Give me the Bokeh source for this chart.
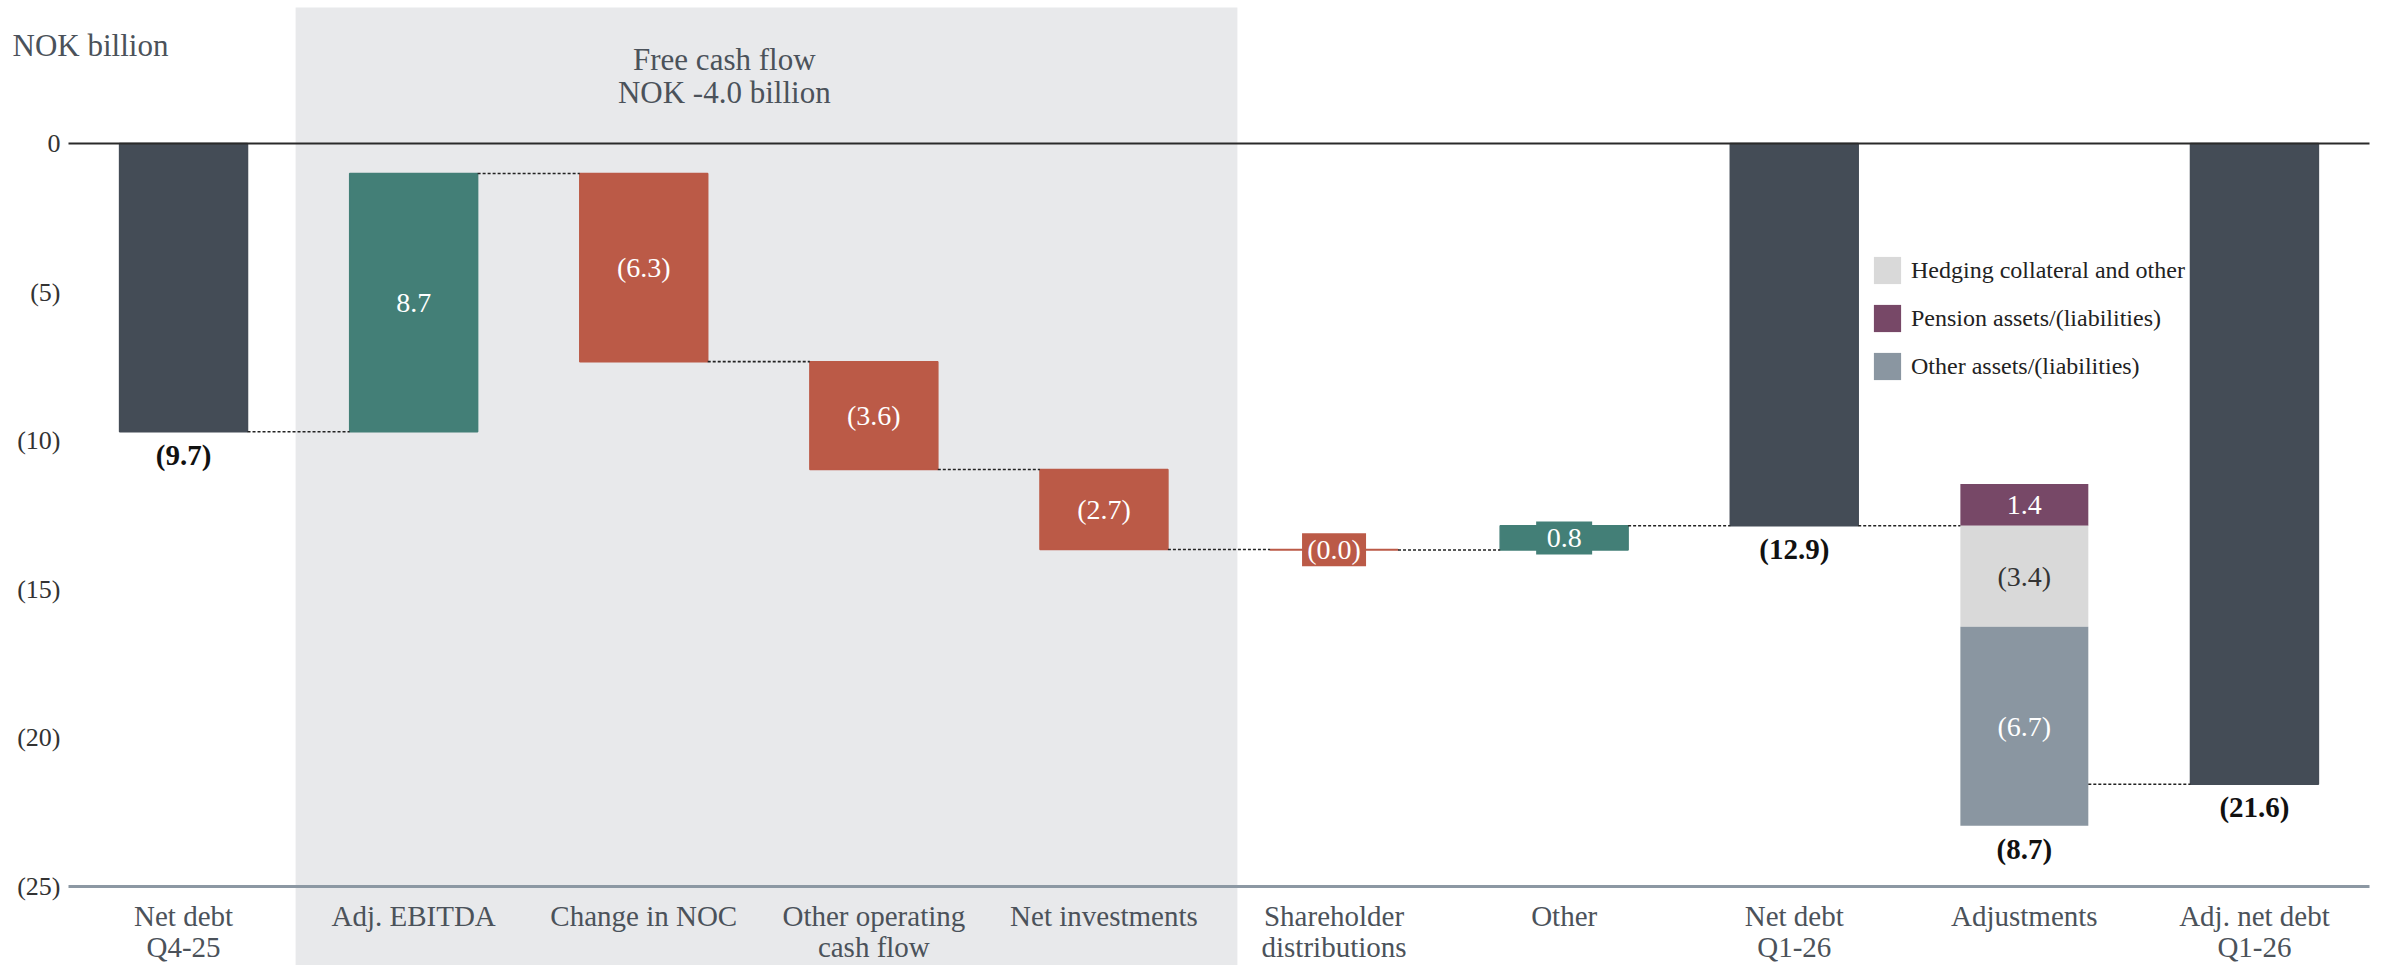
from bokeh.plotting import figure
from bokeh.models import Range1d, ColumnDataSource, FixedTicker, Legend, LegendItem
from bokeh.core.properties import value
from bokeh.embed import file_html
from bokeh.resources import INLINE

# ---------------- data ----------------
categories = ["Net debt\nQ4-25", "Adj. EBITDA", "Change in NOC",
              "Other operating\ncash flow", "Net investments",
              "Shareholder\ndistributions", "Other", "Net debt\nQ1-26",
              "Adjustments", "Adj. net debt\nQ1-26"]

opening_net_debt = -9.70
flow_values = [8.69, -6.33, -3.63, -2.69, -0.02, 0.82]   # Adj. EBITDA ... Other
adjustment_names = ["Pension assets/(liabilities)",
                    "Hedging collateral and other",
                    "Other assets/(liabilities)"]
adjustment_values = [1.40, -3.40, -6.70]
legend_order = ["Hedging collateral and other",
                "Pension assets/(liabilities)",
                "Other assets/(liabilities)"]

y_ticks = [0, -5, -10, -15, -20, -25]
y_tick_labels = ["0", "(5)", "(10)", "(15)", "(20)", "(25)"]

chart_title = ["Free cash flow", "NOK -4.0 billion"]
unit_label = "NOK billion"

# ---------------- styles ----------------
FONT = "Liberation Serif"
DARK = "#444c56"
TEAL = "#437f77"
RED = "#bb5a47"
PURPLE = "#774867"
LIGHT = "#d9d9d9"
STEEL = "#8a96a1"
BAND = "#e8e9eb"
AXIS_TXT = "#4b525a"
BAR_W = 0.556
HALF = BAR_W / 2
adj_colors = {"Pension assets/(liabilities)": PURPLE,
              "Hedging collateral and other": LIGHT,
              "Other assets/(liabilities)": STEEL}
adj_text_colors = {"Pension assets/(liabilities)": "white",
                   "Hedging collateral and other": "#333333",
                   "Other assets/(liabilities)": "white"}

xpos = [i + 0.5 for i in range(len(categories))]   # category centres on the x scale


def fmt(v):
    return f"({abs(v):.1f})" if v < 0 else f"{v:.1f}"


# ---------------- waterfall geometry from data ----------------
bars = dict(x=[], top=[], bottom=[], color=[])
inner = dict(x=[], y=[], text=[], color=[])
boxed = dict(x=[], y=[], text=[], color=[], w=[])
totals = dict(x=[], y=[], text=[])
conn = dict(x0=[], x1=[], y=[])


def connect(i, j, y):
    conn["x0"].append(xpos[i] + HALF)
    conn["x1"].append(xpos[j] - HALF)
    conn["y"].append(y)


bars["x"].append(xpos[0]); bars["top"].append(0.0)
bars["bottom"].append(opening_net_debt); bars["color"].append(DARK)
totals["x"].append(xpos[0]); totals["y"].append(opening_net_debt)
totals["text"].append(fmt(opening_net_debt))

level = opening_net_debt
for k, v in enumerate(flow_values):
    i = k + 1
    connect(i - 1, i, level)
    start, end = level, level + v
    col = TEAL if v >= 0 else RED
    bars["x"].append(xpos[i]); bars["top"].append(max(start, end))
    bars["bottom"].append(min(start, end)); bars["color"].append(col)
    mid = (start + end) / 2
    t = fmt(v)
    if abs(v) < 1.2:
        boxed["x"].append(xpos[i]); boxed["y"].append(mid); boxed["text"].append(t)
        boxed["color"].append(col)
        boxed["w"].append(max(56, 10 + sum(9.5 if ch in "()" else 7 if ch == "." else 14 for ch in t)))
    else:
        inner["x"].append(xpos[i]); inner["y"].append(mid); inner["text"].append(t)
        inner["color"].append("white")
    level = end

# net debt Q1-26
connect(6, 7, level)
bars["x"].append(xpos[7]); bars["top"].append(0.0)
bars["bottom"].append(level); bars["color"].append(DARK)
totals["x"].append(xpos[7]); totals["y"].append(level); totals["text"].append(fmt(level))
net_debt_q1 = level

# adjustments (stacked)
connect(7, 8, net_debt_q1)
adj_segments = {}
pos_level = neg_level = net_debt_q1
for name, v in zip(adjustment_names, adjustment_values):
    if v >= 0:
        b, t = pos_level, pos_level + v
        pos_level = t
    else:
        t, b = neg_level, neg_level + v
        neg_level = b
    adj_segments[name] = (b, t)
    inner["x"].append(xpos[8]); inner["y"].append((b + t) / 2)
    inner["text"].append(fmt(v)); inner["color"].append(adj_text_colors[name])
adj_total = sum(adjustment_values)
totals["x"].append(xpos[8]); totals["y"].append(neg_level); totals["text"].append(fmt(adj_total))

adj_net_debt = net_debt_q1 + adj_total
connect(8, 9, adj_net_debt)
bars["x"].append(xpos[9]); bars["top"].append(0.0)
bars["bottom"].append(adj_net_debt); bars["color"].append(DARK)
totals["x"].append(xpos[9]); totals["y"].append(adj_net_debt); totals["text"].append(fmt(adj_net_debt))

# ---------------- figure ----------------
n = len(categories)
W, H = 2389, 965
p = figure(width=W, height=H,
           x_range=Range1d(-68 / 230.1, (W - 68) / 230.1),
           y_range=Range1d(-(H - 143) / 29.72, 4.576),
           output_backend="svg", toolbar_location=None,
           min_border_left=0, min_border_right=0,
           min_border_top=7, min_border_bottom=0)
p.outline_line_color = None
p.grid.visible = False
p.background_fill_color = "white"
p.border_fill_color = "white"

# free cash flow band (Adj. EBITDA .. Net investments)
p.quad(left=[xpos[1] - 0.5 - 0.013], right=[xpos[4] + 0.58],
       top=[10], bottom=[-40], fill_color=BAND, line_color=None)

# band title
title_x = (xpos[1] + xpos[4]) / 2 - 0.15
p.text(x=[title_x] * 2, y=[2.83, 1.70], text=chart_title,
       text_font=value(FONT), text_font_size="31px", text_color=AXIS_TXT,
       text_align="center", text_baseline="middle")

# bars
p.vbar(x="x", top="top", bottom="bottom", width=BAR_W, source=ColumnDataSource(bars),
       fill_color="color", line_color="color", line_width=1.5)

legend_renderers = {}
for name in adjustment_names:
    b, t = adj_segments[name]
    r = p.vbar(x=[xpos[8]], top=[t], bottom=[b], width=BAR_W,
               fill_color=adj_colors[name], line_color=None)
    legend_renderers[name] = r

# connectors
p.segment(x0="x0", x1="x1", y0="y", y1="y", source=ColumnDataSource(conn),
          line_color="#222222", line_width=1.6, line_dash="3 2")

# zero line across the category span
p.segment(x0=[0], x1=[n], y0=[0], y1=[0], line_color="#2a2a2a", line_width=2)

# labels
p.text(x="x", y="y", text="text", text_color="color", source=ColumnDataSource(inner),
       text_font=value(FONT), text_font_size="28px", text_align="center",
       text_baseline="middle")
p.rect(x="x", y="y", width="w", height=33, width_units="screen", height_units="screen",
       fill_color="color", line_color=None, source=ColumnDataSource(boxed))
p.text(x="x", y="y", text="text", source=ColumnDataSource(boxed), text_color="white",
       text_font=value(FONT), text_font_size="28px", text_align="center",
       text_baseline="middle")
p.text(x="x", y="y", text="text", source=ColumnDataSource(totals), text_color="#111111",
       text_font=value(FONT), text_font_size="29px", text_font_style="bold",
       text_align="center", text_baseline="middle", y_offset=23)

# unit label
p.text(x=[-0.243], y=[3.30], text=[unit_label], text_font=value(FONT),
       text_font_size="31px", text_color=AXIS_TXT, text_align="left",
       text_baseline="middle")

# axes
xa = p.xaxis[0]
xa.fixed_location = -25
xa.bounds = (0, n)
xa.ticker = FixedTicker(ticks=xpos)
xa.major_label_overrides = dict(zip(xpos, categories))
xa.axis_line_color = "#8c98a3"
xa.axis_line_width = 3
xa.major_tick_line_color = None
xa.minor_tick_line_color = None
xa.major_tick_out = 0
xa.major_tick_in = 0
xa.major_label_standoff = 14
xa.major_label_text_font = FONT
xa.major_label_text_font_size = "29px"
xa.major_label_text_line_height = 0.95
xa.major_label_text_color = AXIS_TXT

ya = p.yaxis[0]
ya.fixed_location = 0
ya.ticker = FixedTicker(ticks=y_ticks)
ya.major_label_overrides = dict(zip(y_ticks, y_tick_labels))
ya.axis_line_color = None
ya.major_tick_line_color = None
ya.minor_tick_line_color = None
ya.major_tick_out = 0
ya.major_tick_in = 0
ya.major_label_standoff = 8
ya.major_label_text_font = FONT
ya.major_label_text_font_size = "26px"
ya.major_label_text_color = "#333333"

# legend (legend boxes are drawn inset by 10%, so 34px glyph -> 27px square)
legend = Legend(items=[LegendItem(label=nm, renderers=[legend_renderers[nm]]) for nm in legend_order],
                location=(1870, H - 383), orientation="vertical",
                glyph_width=34, glyph_height=34, label_height=34, spacing=14,
                padding=0, margin=0, label_standoff=7,
                background_fill_alpha=0, border_line_color=None,
                label_text_font=FONT, label_text_font_size="24px",
                label_text_color="#222222")
p.add_layout(legend)

open("out.html", "w").write(file_html(p, INLINE))
